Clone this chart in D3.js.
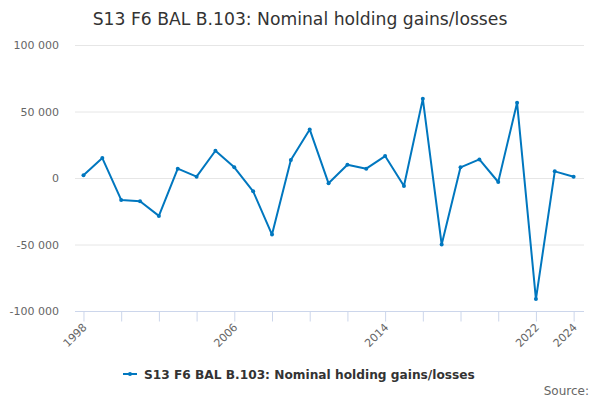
<!DOCTYPE html>
<html>
<head>
<meta charset="utf-8">
<script src="https://cdn.jsdelivr.net/npm/d3@7"></script>
<style>
  body { margin: 0; background: #fff; }
  svg { font-family: "DejaVu Sans", sans-serif; }
</style>
</head>
<body>
<div id="chart"></div>
<script>
// chart data
var years = [1998, 1999, 2000, 2001, 2002, 2003, 2004, 2005, 2006, 2007, 2008, 2009, 2010,
             2011, 2012, 2013, 2014, 2015, 2016, 2017, 2018, 2019, 2020, 2021, 2022, 2023, 2024];
var values = [2000, 15000, -16500, -17500, -28500, 7000, 1000, 20500, 8000, -10000, -42500, 13500, 36500,
              -4000, 10000, 7000, 16500, -6000, 59500, -50000, 8000, 14000, -3000, 56500, -91000, 5000, 1000];
var yTicks = [-100000, -50000, 0, 50000, 100000];
var xLabels = [1998, 2006, 2014, 2022, 2024];
var seriesName = "S13 F6 BAL B.103: Nominal holding gains/losses";
var title = "S13 F6 BAL B.103: Nominal holding gains/losses";

var width = 600, height = 400;
var margin = {top: 45, right: 16, bottom: 89, left: 75};
var color = "#0077bf";

var svg = d3.select("#chart")
    .append("svg")
    .attr("width", width)
    .attr("height", height);

var x = d3.scaleLinear()
    .domain([1997.55, 2024.55])
    .range([margin.left, width - margin.right]);

var y = d3.scaleLinear()
    .domain([-100000, 100000])
    .range([height - margin.bottom, margin.top]);

// title
svg.append("text")
    .attr("x", 300)
    .attr("y", 25)
    .attr("text-anchor", "middle")
    .attr("fill", "#333")
    .attr("font-size", "17.2px")
    .text(title);

// grid lines
svg.append("g")
    .selectAll("line")
    .data(yTicks)
    .enter()
    .append("line")
    .attr("x1", margin.left)
    .attr("x2", width - margin.right)
    .attr("y1", d => y(d) + 0.5)
    .attr("y2", d => y(d) + 0.5)
    .attr("stroke", "#e6e6e6")
    .attr("stroke-width", 1);

// y axis labels
var fmt = d => d3.format(",")(d).replace(/,/g, " ").replace("−", "-");
svg.append("g")
    .selectAll("text")
    .data(yTicks)
    .enter()
    .append("text")
    .attr("x", 59)
    .attr("y", d => y(d) + 4)
    .attr("text-anchor", "end")
    .attr("fill", "#666")
    .attr("font-size", "11px")
    .text(d => fmt(d));

// x axis
var xAxis = svg.append("g")
    .attr("transform", `translate(0,${height - margin.bottom + 0.5})`)
    .call(d3.axisBottom(x)
        .tickValues(d3.range(1998, 2025, 2))
        .tickSize(10)
        .tickFormat(""));
xAxis.select(".domain").attr("stroke", "#ccd6eb").attr("d", `M${margin.left},0H${width - margin.right}`);
xAxis.selectAll(".tick line").attr("stroke", "#ccd6eb");

svg.append("g")
    .selectAll("text")
    .data(xLabels)
    .enter()
    .append("text")
    .attr("transform", d => `translate(${x(d) + 4},${height - margin.bottom + 17}) rotate(-45)`)
    .attr("text-anchor", "end")
    .attr("fill", "#666")
    .attr("font-size", "11px")
    .text(d => d);

// line
var line = d3.line()
    .x((d, i) => x(years[i]))
    .y(d => y(d));

svg.append("path")
    .datum(values)
    .attr("fill", "none")
    .attr("stroke", color)
    .attr("stroke-width", 2)
    .attr("stroke-linejoin", "round")
    .attr("d", line);

svg.append("g")
    .selectAll("circle")
    .data(values)
    .enter()
    .append("circle")
    .attr("cx", (d, i) => x(years[i]))
    .attr("cy", d => y(d))
    .attr("r", 2)
    .attr("fill", color);

// legend
var legend = svg.append("g").attr("transform", "translate(123,374)");
legend.append("line")
    .attr("x1", 0).attr("x2", 14)
    .attr("y1", 0).attr("y2", 0)
    .attr("stroke", color)
    .attr("stroke-width", 2);
legend.append("circle")
    .attr("cx", 7).attr("cy", 0).attr("r", 2)
    .attr("fill", color);
legend.append("text")
    .attr("x", 21)
    .attr("y", 4.5)
    .attr("fill", "#333")
    .attr("font-size", "12.2px")
    .attr("font-weight", "bold")
    .text(seriesName);

// source
svg.append("text")
    .attr("x", 589)
    .attr("y", 395)
    .attr("text-anchor", "end")
    .attr("fill", "#666")
    .attr("font-size", "12px")
    .text("Source:");
</script>
</body>
</html>
